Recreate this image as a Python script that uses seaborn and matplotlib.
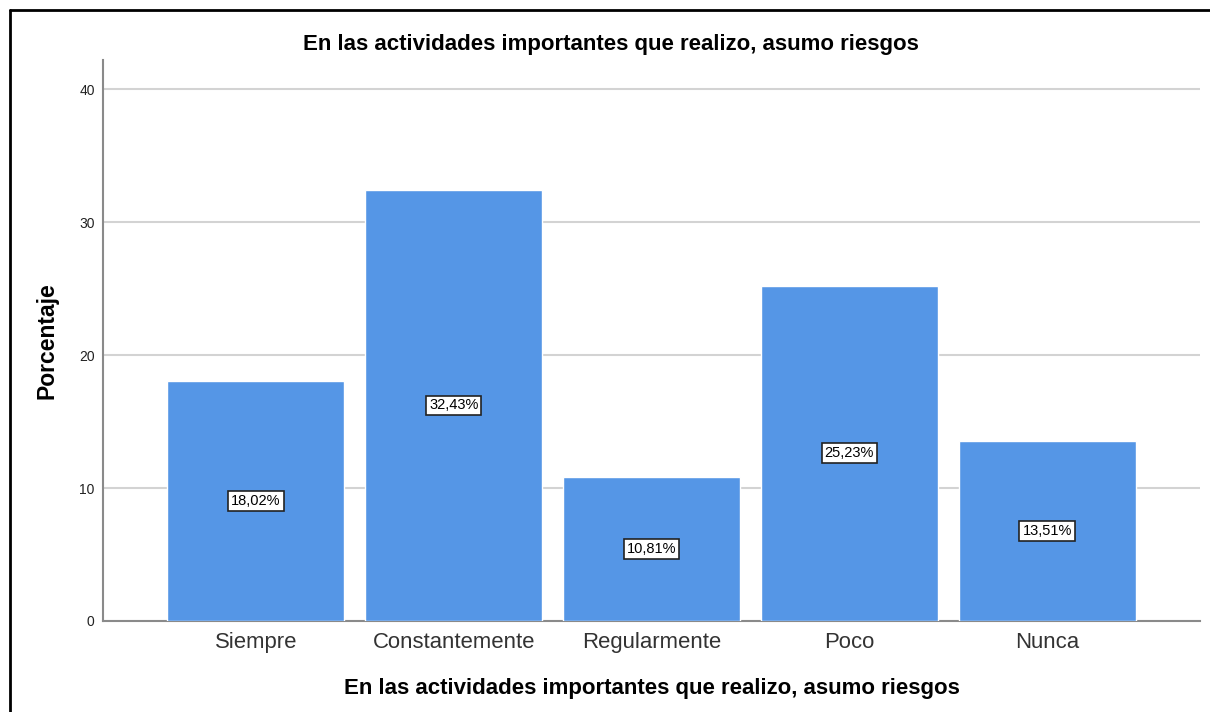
import matplotlib
matplotlib.use("Agg")
import matplotlib.pyplot as plt
from matplotlib.lines import Line2D
import pandas as pd
import seaborn as sns

categories = ["Siempre", "Constantemente", "Regularmente", "Poco", "Nunca"]
percentages = [18.02, 32.43, 10.81, 25.23, 13.51]
title = "En las actividades importantes que realizo, asumo riesgos"

df = pd.DataFrame({"cat": categories, "pct": percentages})

sns.set_style("white")
plt.rcParams["font.family"] = ["Liberation Sans", "DejaVu Sans"]

fig = plt.figure(figsize=(12.1, 7.12), dpi=100)
ax = fig.add_axes([103 / 1210, 1 - 621 / 712, 1097 / 1210, 561 / 712])

sns.barplot(data=df, x="cat", y="pct", color="#5596E6", saturation=1,
            width=0.895, ax=ax, zorder=3)

ax.set_ylim(0, 42.2)
ax.set_xlim(-0.773, 4.773)
ax.set_yticks([0, 10, 20, 30, 40])
ax.yaxis.grid(True, color="#D3D3D3", linewidth=1.5, zorder=0)
ax.set_axisbelow(True)
for s in ["top", "right"]:
    ax.spines[s].set_visible(False)
for s in ["left", "bottom"]:
    ax.spines[s].set_color("#8A8A8A")
    ax.spines[s].set_linewidth(1.5)
ax.tick_params(axis="y", length=0, labelsize=10, pad=6, labelcolor="#222222")
ax.tick_params(axis="x", length=0, labelsize=15.9, pad=8, labelcolor="#333333")

# el título va centrado en la figura, no en los ejes
t = ax.set_title(title, fontsize=16, fontweight="bold", pad=7, color="black")
t.set_x((611 - 103) / 1097)
ax.set_xlabel(title, fontsize=16, fontweight="bold", labelpad=18, color="black")
ax.set_ylabel("Porcentaje", fontsize=16.5, fontweight="bold", labelpad=15,
              color="black")

for i, v in enumerate(percentages):
    ax.text(i, v / 2, f"{v:.2f}%".replace(".", ","), ha="center", va="center",
            fontsize=10.5, zorder=5, color="black",
            bbox=dict(boxstyle="square,pad=0.2", facecolor="white",
                      edgecolor="#222222", linewidth=1.2))

# marco de la figura
fig.add_artist(Line2D([10 / 1210, 10 / 1210], [0, 1 - 10 / 712],
                      transform=fig.transFigure, color="black", linewidth=2))
fig.add_artist(Line2D([10 / 1210, 1], [1 - 10 / 712, 1 - 10 / 712],
                      transform=fig.transFigure, color="black", linewidth=2))

fig.savefig("out.png", dpi=100)
